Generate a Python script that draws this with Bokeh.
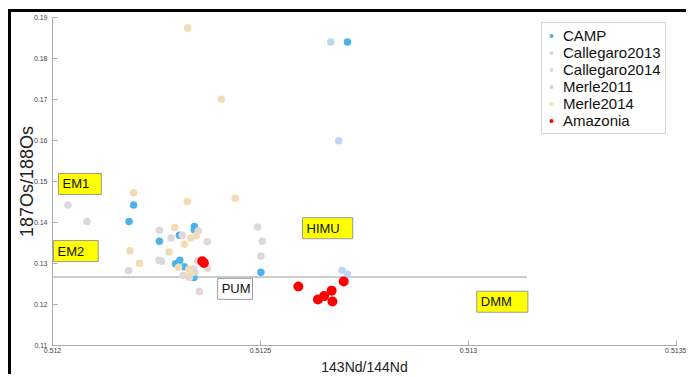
from bokeh.plotting import figure
from bokeh.models import Label, Legend, LegendItem, FixedTicker
from bokeh.embed import file_html
from bokeh.resources import INLINE

# ---- axes ----
x_ticks = [0.512, 0.5125, 0.513, 0.5135]
x_tick_labels = ["0.512", "0.5125", "0.513", "0.5135"]
y_ticks = [0.11, 0.12, 0.13, 0.14, 0.15, 0.16, 0.17, 0.18, 0.19]
y_tick_labels = ["0.11", "0.12", "0.13", "0.14", "0.15", "0.16", "0.17", "0.18", "0.19"]

# ---- data (143Nd/144Nd, 187Os/188Os) ----
camp_nd = [0.512195, 0.512184, 0.512257, 0.512305, 0.512341, 0.512341, 0.512306,
           0.512296, 0.512317, 0.512340, 0.512501, 0.512709]
camp_os = [0.14425, 0.14023, 0.13541, 0.13686, 0.13902, 0.13817, 0.13078,
           0.12993, 0.12922, 0.12661, 0.12787, 0.18401]

call13_nd = [0.512037, 0.512083, 0.512183, 0.512257, 0.512285, 0.512256, 0.512262,
             0.512338, 0.512342, 0.512493, 0.512504, 0.512501]
call13_os = [0.14425, 0.14023, 0.12825, 0.13812, 0.13625, 0.13078, 0.13053,
             0.12859, 0.12787, 0.13892, 0.13541, 0.13175]

call14_nd = [0.512312, 0.512350, 0.512372, 0.512314, 0.512329, 0.512349, 0.512373,
             0.512353, 0.512339]
call14_os = [0.13691, 0.13793, 0.13528, 0.12714, 0.12661, 0.13068, 0.12884,
             0.12316, 0.12867]

merle11_nd = [0.512669, 0.512688, 0.512696, 0.512709]
merle11_os = [0.18401, 0.15994, 0.12838, 0.12738]

merle14_nd = [0.512195, 0.512186, 0.512209, 0.512324, 0.512439, 0.512325, 0.512406,
              0.512294, 0.512280, 0.512317, 0.512332, 0.512345, 0.512303, 0.512328,
              0.512332]
merle14_os = [0.14726, 0.13310, 0.13005, 0.14510, 0.14593, 0.18741, 0.17005,
              0.13878, 0.13279, 0.13468, 0.13623, 0.13674, 0.12908, 0.12862,
              0.12765]

amaz_nd = [0.512360, 0.512364, 0.512591, 0.512638, 0.512653, 0.512671, 0.512673, 0.512700]
amaz_os = [0.13053, 0.13012, 0.12438, 0.12120, 0.12205, 0.12338, 0.12072, 0.12564]

# PUM reference line
pum_nd = [0.512, 0.51314]
pum_os = [0.1267, 0.1267]

# end-member labels
em_text = ["EM1", "EM2", "HIMU", "PUM", "DMM"]
em_nd = [0.5120144, 0.5120024, 0.512601, 0.512397, 0.51302]
em_os = [0.1494, 0.13303, 0.1386, 0.12382, 0.12067]
em_fill = ["#ffff00", "#ffff00", "#ffff00", "#ffffff", "#ffff00"]
em_rpad = [12, 14, 13, 2, 16]

FONT = "Liberation Sans"

p = figure(width=678, height=365, output_backend="svg", toolbar_location=None,
           x_range=(0.512, 0.5135), y_range=(0.11, 0.19),
           min_border_left=41, min_border_top=5, min_border_right=13,
           min_border_bottom=30)
p.styles = {"margin-left": "8px", "margin-top": "9px",
            "border-left": "3px solid black", "border-top": "3px solid black"}

p.outline_line_color = None
p.xgrid.grid_line_color = None
p.ygrid.grid_line_color = None

for ax in (p.xaxis[0], p.yaxis[0]):
    ax.axis_line_color = "#aaaaaa"
    ax.major_tick_line_color = "#aaaaaa"
    ax.minor_tick_line_color = None
    ax.major_tick_in = 5
    ax.major_tick_out = 0
    ax.major_label_text_font = FONT
    ax.major_label_text_font_size = "7px"
    ax.major_label_text_color = "#444444"
    ax.axis_label_text_font = FONT
    ax.axis_label_text_font_style = "normal"
    ax.axis_label_text_color = "#222222"

p.xaxis.ticker = FixedTicker(ticks=x_ticks)
p.xaxis.major_label_overrides = dict(zip(x_ticks, x_tick_labels))
p.yaxis.ticker = FixedTicker(ticks=y_ticks)
p.yaxis.major_label_overrides = dict(zip(y_ticks, y_tick_labels))
p.xaxis.axis_label = "143Nd/144Nd"
p.yaxis.axis_label = "187Os/188Os"
p.xaxis.axis_label_text_font_size = "14px"
p.yaxis.axis_label_text_font_size = "18px"
p.xaxis.major_label_standoff = 2
p.yaxis.major_label_standoff = 5
p.xaxis.axis_label_standoff = 3
p.yaxis.axis_label_standoff = -6

p.line(pum_nd, pum_os, line_color="#999999", line_width=1)

series = [
    ("CAMP", camp_nd, camp_os, "#4db3e6", 7.5),
    ("Callegaro2013", call13_nd, call13_os, "#d9d9d9", 7.5),
    ("Callegaro2014", call14_nd, call14_os, "#e8d5d5", 7.5),
    ("Merle2011", merle11_nd, merle11_os, "#bfd6f0", 7.5),
    ("Merle2014", merle14_nd, merle14_os, "#f2dcb6", 7.5),
    ("Amazonia", amaz_nd, amaz_os, "#ff0000", 10),
]
items = []
for name, xs, ys, col, sz in series:
    r = p.scatter(xs, ys, size=sz, fill_color=col, line_color=None)
    items.append(LegendItem(label=name, renderers=[r]))

legend = Legend(items=items, location=(489, 211), label_text_font=FONT,
                label_text_font_size="15px", label_text_color="#111111",
                glyph_width=10, glyph_height=17, label_height=17,
                label_standoff=7, padding=4, spacing=0, margin=0,
                border_line_color="#aaaaaa", border_line_width=1,
                background_fill_color="white", background_fill_alpha=1)
p.add_layout(legend)

for t, xv, yv, fc, rp in zip(em_text, em_nd, em_os, em_fill, em_rpad):
    p.add_layout(Label(x=xv, y=yv, text=t, text_font=FONT, text_font_size="13px",
                       text_color="#111111", text_align="left", text_baseline="middle",
                       background_fill_color=fc, border_line_color="#999999",
                       border_line_width=1,
                       padding=dict(left=4, right=rp, top=3, bottom=3)))

open("out.html", "w").write(file_html(p, INLINE))
